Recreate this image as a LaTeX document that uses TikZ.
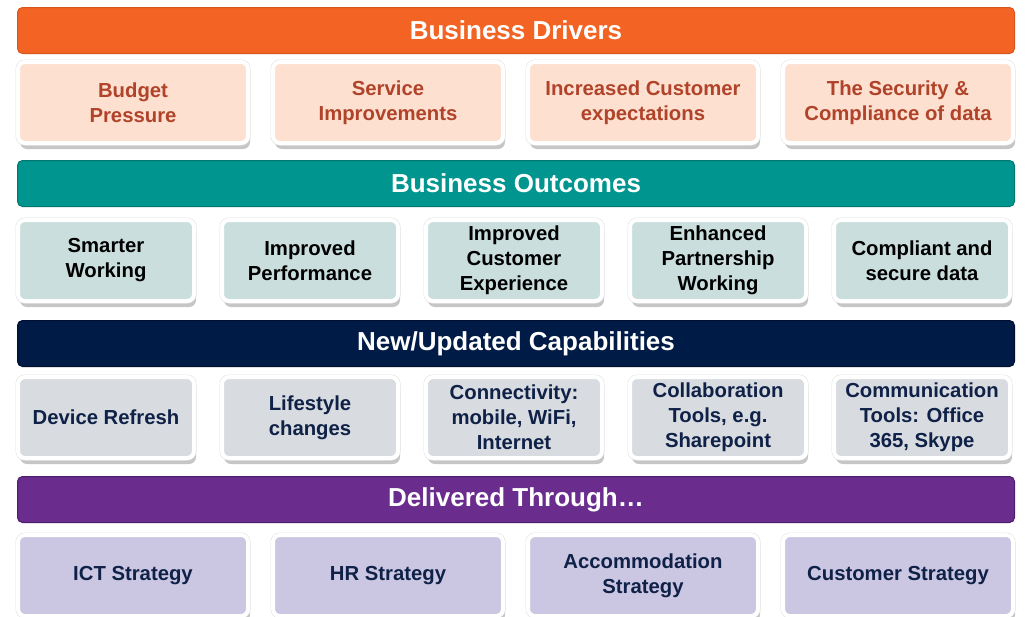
\documentclass[tikz,border=0pt]{standalone}
\usepackage{fontspec}
\setmainfont{Liberation Sans}
\usetikzlibrary{positioning, shadows}
\definecolor{driverorange}{HTML}{F26324}
\definecolor{driverline}{HTML}{D9541B}
\definecolor{driverfill}{HTML}{FDE0CF}
\definecolor{drivertext}{HTML}{B0432A}
\definecolor{outcometeal}{HTML}{00968F}
\definecolor{outcomeline}{HTML}{00776F}
\definecolor{outcomefill}{HTML}{CADFDD}
\definecolor{capnavy}{HTML}{001B45}
\definecolor{capline}{HTML}{000F30}
\definecolor{capfill}{HTML}{D8DCE0}
\definecolor{deliverpurple}{HTML}{6A2D8E}
\definecolor{deliverline}{HTML}{4B1D6B}
\definecolor{deliverfill}{HTML}{CBC7E3}
\definecolor{darktext}{HTML}{0F2147}
\tikzset{
    x=1pt, y=1pt, % one unit is one pixel of the layout
    banner/.style={rectangle, rounded corners=5pt, line width=1pt, minimum width=997pt,
        minimum height=46pt, text=white, font=\fontsize{26}{30}\selectfont\bfseries}, % the coloured heading bars
    tile/.style={rectangle, rounded corners=7pt, draw=white, line width=4pt, align=center,
        minimum height=81pt, font=\fontsize{20.3}{25}\selectfont\bfseries,
        drop shadow={shadow xshift=2pt, shadow yshift=-6pt, opacity=0.45},
        preaction={draw=black!12, line width=5pt}}, % the boxes under each bar, white frame with a thin grey edge
    wide/.style={tile, minimum width=230pt}, % four in a row
    narrow/.style={tile, minimum width=176pt}, % five in a row
}
\begin{document}
\begin{tikzpicture}
\useasboundingbox (0,0) rectangle (1027,-616);

% Business drivers
\node[banner, fill=driverorange, draw=driverline] (drivers) at (516,-30.5) {Business Drivers};
\node[wide, fill=driverfill, text=drivertext] (budget) at (133,-102.5) {Budget\\Pressure};
\node[wide, fill=driverfill, text=drivertext, right=21pt of budget] (service) {Service\\Improvements};
\node[wide, fill=driverfill, text=drivertext, right=21pt of service] (expect) {Increased Customer\\expectations};
\node[wide, fill=driverfill, text=drivertext, right=21pt of expect] (security) {The Security \&\\Compliance of data};

% Business outcomes
\node[banner, fill=outcometeal, draw=outcomeline] (outcomes) at (516,-183.5) {Business Outcomes};
\node[narrow, fill=outcomefill] (smarter) at (106,-260.5) {Smarter\\Working};
\node[narrow, fill=outcomefill, right=24pt of smarter] (perform) {Improved\\Performance};
\node[narrow, fill=outcomefill, right=24pt of perform] (custexp) {Improved\\Customer\\Experience};
\node[narrow, fill=outcomefill, right=24pt of custexp] (partner) {Enhanced\\Partnership\\Working};
\node[narrow, fill=outcomefill, right=24pt of partner] (secure) {Compliant and\\secure data};

% Capabilities
\node[banner, fill=capnavy, draw=capline] (capabilities) at (516,-343.5) {New/Updated Capabilities};
\node[narrow, fill=capfill, text=darktext] (device) at (106,-417.5) {Device Refresh};
\node[narrow, fill=capfill, text=darktext, right=24pt of device] (lifestyle) {Lifestyle\\changes};
\node[narrow, fill=capfill, text=darktext, right=24pt of lifestyle] (connect) {Connectivity:\\mobile, WiFi,\\Internet};
\node[narrow, fill=capfill, text=darktext, right=24pt of connect] (collab) {Collaboration\\Tools, e.g.\\Sharepoint};
\node[narrow, fill=capfill, text=darktext, right=24pt of collab] (comms) {Communication\\Tools: Office\\365, Skype};

% Delivery
\node[banner, fill=deliverpurple, draw=deliverline] (delivered) at (516,-499.5) {Delivered Through\dots};
\node[wide, fill=deliverfill, text=darktext] (ict) at (133,-575.5) {ICT Strategy};
\node[wide, fill=deliverfill, text=darktext, right=21pt of ict] (hr) {HR Strategy};
\node[wide, fill=deliverfill, text=darktext, right=21pt of hr] (accom) {Accommodation\\Strategy};
\node[wide, fill=deliverfill, text=darktext, right=21pt of accom] (customer) {Customer Strategy};
\end{tikzpicture}
\end{document}
